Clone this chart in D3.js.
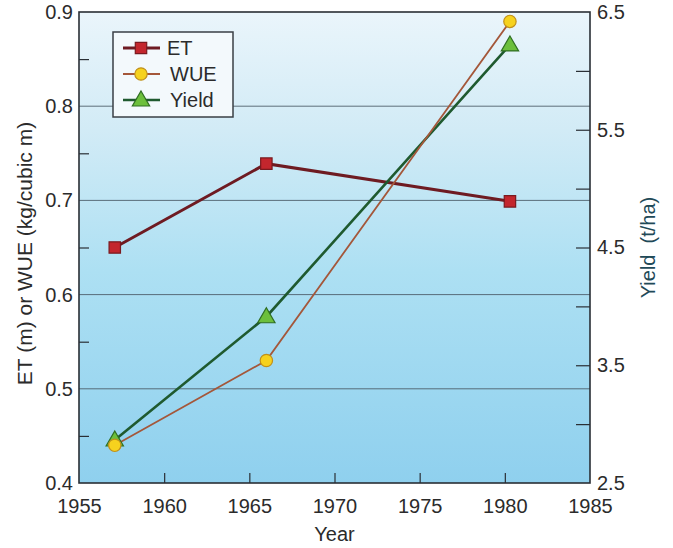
<!DOCTYPE html>
<html>
<head>
<meta charset="utf-8">
<script src="https://cdn.jsdelivr.net/npm/d3@7"></script>
<style>
  html, body { margin: 0; padding: 0; background: #fff; }
  svg { display: block; }
  text { font-family: "Liberation Sans", Arial, Helvetica, sans-serif; }
</style>
</head>
<body>
<svg id="chart" width="673" height="548"></svg>
<script>
// ---- data ----
const years = [1957.1, 1966.0, 1980.3];
const etValues = [0.650, 0.739, 0.699];
const wueValues = [0.440, 0.530, 0.890];
const yieldValues = [2.865, 3.912, 6.220];
const xTicks = [1955, 1960, 1965, 1970, 1975, 1980, 1985];
const leftTicks = [0.4, 0.5, 0.6, 0.7, 0.8, 0.9];
const leftMinorTicks = [0.45, 0.55, 0.65, 0.75, 0.85];
const rightLabelTicks = [2.5, 3.5, 4.5, 5.5, 6.5];
const rightAllTicks = [3.0, 3.5, 4.0, 4.5, 5.0, 5.5, 6.0];
const gridValues = [0.5, 0.6, 0.7, 0.8];
const seriesNames = ["ET", "WUE", "Yield"];

// ---- layout ----
const L = 79, R = 590, T = 12, B = 483;
const svg = d3.select("#chart");

const x = d3.scaleLinear().domain([1955, 1985]).range([L, R]);
const yL = d3.scaleLinear().domain([0.4, 0.9]).range([B, T]);
const yR = d3.scaleLinear().domain([2.5, 6.5]).range([B, T]);

// background gradient
const defs = svg.append("defs");
const grad = defs.append("linearGradient").attr("id", "bg")
  .attr("x1", 0).attr("y1", 0).attr("x2", 0).attr("y2", 1);
grad.append("stop").attr("offset", "0%").attr("stop-color", "#eaf5fb");
grad.append("stop").attr("offset", "25%").attr("stop-color", "#d2ebf6");
grad.append("stop").attr("offset", "55%").attr("stop-color", "#ade0f3");
grad.append("stop").attr("offset", "100%").attr("stop-color", "#8fd0ee");

svg.append("rect").attr("x", L).attr("y", T).attr("width", R - L).attr("height", B - T)
  .attr("fill", "url(#bg)");

// gridlines
svg.append("g").selectAll("line").data(gridValues).join("line")
  .attr("x1", L).attr("x2", R)
  .attr("y1", d => yL(d)).attr("y2", d => yL(d))
  .attr("stroke", "#4a5a66").attr("stroke-width", 1).attr("opacity", 0.85);

// axes (ticks inward)
const tickColor = "#2a2f35";
const fontSize = 20;

const axB = d3.axisBottom(x).tickValues(xTicks).tickSizeInner(-10).tickSizeOuter(0).tickPadding(16)
  .tickFormat(d3.format("d"));
const gB = svg.append("g").attr("transform", `translate(0,${B})`).call(axB);

const axL = d3.axisLeft(yL).tickValues(leftTicks).tickSizeInner(0).tickSizeOuter(0).tickPadding(6)
  .tickFormat(d3.format(".1f"));
const gL = svg.append("g").attr("transform", `translate(${L},0)`).call(axL);

const axLm = d3.axisLeft(yL).tickValues(leftMinorTicks).tickSizeInner(-10).tickSizeOuter(0).tickFormat("");
const gLm = svg.append("g").attr("transform", `translate(${L},0)`).call(axLm);

const axR = d3.axisRight(yR).tickValues(rightLabelTicks).tickSizeInner(0).tickSizeOuter(0).tickPadding(7)
  .tickFormat(d3.format(".1f"));
const gR = svg.append("g").attr("transform", `translate(${R},0)`).call(axR);

const axRm = d3.axisRight(yR).tickValues(rightAllTicks).tickSizeInner(-14).tickSizeOuter(0).tickFormat("");
const gRm = svg.append("g").attr("transform", `translate(${R},0)`).call(axRm);

[gB, gL, gLm, gR, gRm].forEach(g => {
  g.select(".domain").remove();
  g.selectAll("line").attr("stroke", tickColor).attr("stroke-width", 1.2);
  g.selectAll("text").attr("font-size", fontSize).attr("fill", "#2b2b2b")
    .attr("font-family", "'Liberation Sans', Arial, sans-serif");
});
gB.selectAll("line").filter(d => d === 1955 || d === 1985).remove();

// frame
svg.append("rect").attr("x", L).attr("y", T).attr("width", R - L).attr("height", B - T)
  .attr("fill", "none").attr("stroke", "#2a2f35").attr("stroke-width", 1.6);

// axis titles
svg.append("text").attr("x", (L + R) / 2).attr("y", 541).attr("text-anchor", "middle")
  .attr("font-size", 20).attr("fill", "#2b2b2b").text("Year");
svg.append("text").attr("transform", `translate(32,${(T + B) / 2 + 6}) rotate(-90)`)
  .attr("text-anchor", "middle").attr("font-size", 21).attr("fill", "#2b2b2b")
  .text("ET (m) or WUE (kg/cubic m)");
svg.append("text").attr("transform", `translate(655,${(T + B) / 2}) rotate(-90)`)
  .attr("text-anchor", "middle").attr("font-size", 20).attr("fill", "#1f4a58")
  .style("white-space", "pre").attr("xml:space", "preserve")
  .text("Yield  (t/ha)");

// series
const styles = {
  ET:    { line: "#6e1b22", width: 3,   fill: "#c3262d", stroke: "#7a1a1f", shape: d3.symbolSquare,   size: 130 },
  WUE:   { line: "#a4573a", width: 1.8, fill: "#f6d21e", stroke: "#c0901a", shape: d3.symbolCircle,   size: 120 },
  Yield: { line: "#1f5a2f", width: 2.6, fill: "#6cbf3c", stroke: "#2f6e22", shape: d3.symbolTriangle, size: 130 }
};
const series = [
  { name: "ET", pts: years.map((yr, i) => [x(yr), yL(etValues[i])]) },
  { name: "Yield", pts: years.map((yr, i) => [x(yr), yR(yieldValues[i])]) },
  { name: "WUE", pts: years.map((yr, i) => [x(yr), yL(wueValues[i])]) }
];
const line = d3.line();
series.forEach(s => {
  const st = styles[s.name];
  svg.append("path").attr("d", line(s.pts)).attr("fill", "none")
    .attr("stroke", st.line).attr("stroke-width", st.width).attr("stroke-linejoin", "miter");
});
series.forEach(s => {
  const st = styles[s.name];
  svg.append("g").selectAll("path").data(s.pts).join("path")
    .attr("transform", d => `translate(${d[0]},${d[1] + (s.name === "Yield" ? 1 : 0)})`)
    .attr("d", d3.symbol().type(st.shape).size(st.size))
    .attr("fill", st.fill).attr("stroke", st.stroke).attr("stroke-width", 1.2);
});

// legend
const lg = svg.append("g");
lg.append("rect").attr("x", 113).attr("y", 32).attr("width", 120).attr("height", 85)
  .attr("fill", "#f3f9fc").attr("stroke", "#3a3f45").attr("stroke-width", 1.5);
seriesNames.forEach((name, i) => {
  const st = styles[name];
  const cy = 48 + i * 26;
  lg.append("line").attr("x1", 123).attr("x2", 160).attr("y1", cy).attr("y2", cy)
    .attr("stroke", st.line).attr("stroke-width", st.width);
  lg.append("path").attr("transform", `translate(141,${cy + (name === "Yield" ? 1 : 0)})`)
    .attr("d", d3.symbol().type(st.shape).size(st.size))
    .attr("fill", st.fill).attr("stroke", st.stroke).attr("stroke-width", 1.2);
  lg.append("text").attr("x", name === "ET" ? 167 : 170).attr("y", cy).attr("dy", "0.36em")
    .attr("font-size", 20).attr("fill", "#2b2b2b").text(name);
});
</script>
</body>
</html>
